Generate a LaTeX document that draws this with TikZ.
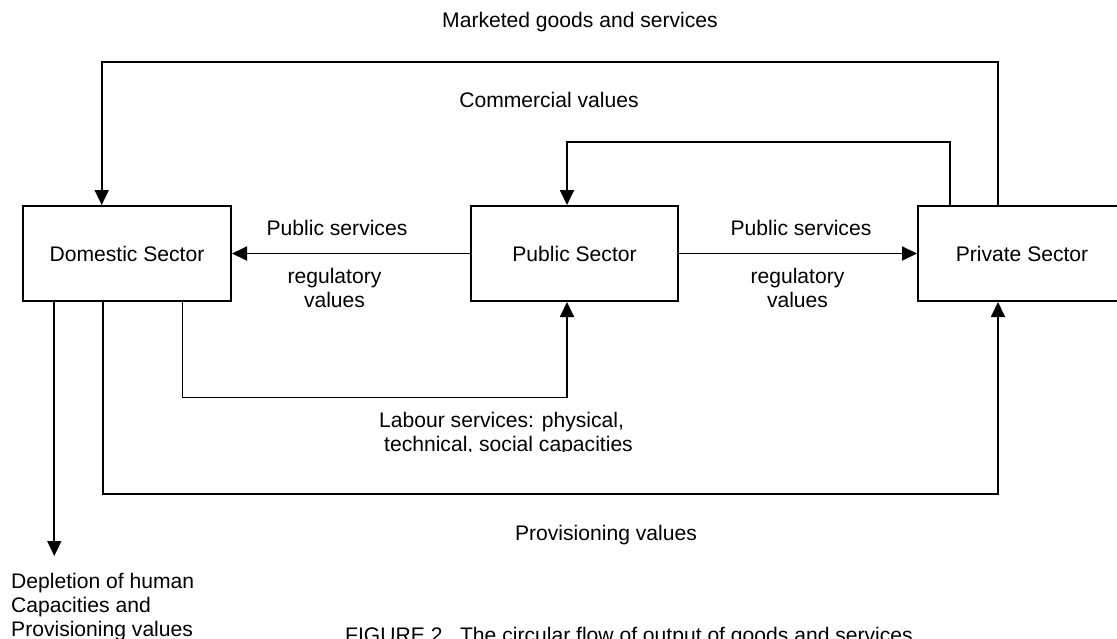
\documentclass[tikz,border=0pt]{standalone}
\usepackage{fontspec}
\setmainfont{Liberation Sans}
\usetikzlibrary{arrows.meta}
\begin{document}
\begin{tikzpicture}[x=1pt,y=-1pt,
  every node/.style={font=\fontsize{21.1}{24}\selectfont, inner sep=0pt},
  sector/.style={draw, line width=2pt, minimum width=208pt, minimum height=95pt},
  flow/.style={line width=1.8pt, -{Triangle[length=15pt,width=14pt]}},
  plainflow/.style={line width=1.8pt},
  lbl/.style={anchor=base}]
\useasboundingbox (0,0) rectangle (1117,638);

% sectors
\node[sector] (dom) at (127,253.5) {Domestic Sector};
\node[sector, minimum width=207pt] (pub) at (574.5,253.5) {Public Sector};
\node[sector] (priv) at (1022,253.5) {Private Sector};

% bend points
\coordinate (o1) at (998,62);
\coordinate (o2) at (101.7,62);
\coordinate (i1) at (950,142);
\coordinate (i2) at (567,142);
\coordinate (l1) at (182.5,397.5);
\coordinate (l2) at (567,397.5);
\coordinate (p1) at (102.7,494);
\coordinate (p2) at (998,494);
\coordinate (dep) at (54.3,556);

% connectors
\draw[flow] (pub.west) -- (dom.east);
\draw[flow] (pub.east) -- (priv.west);
\draw[flow] (priv.north -| o1) -- (o1) -- (o2) -- (dom.north -| o2);
\draw[flow] (priv.north -| i1) -- (i1) -- (i2) -- (pub.north -| i2);
\draw[flow] (dom.south -| l1) -- (l1) -- (l2) -- (pub.south -| l2);
\draw[flow] (dom.south -| p1) -- (p1) -- (p2) -- (priv.south -| p2);
\draw[flow] (dom.south -| dep) -- (dep);

% labels
\node[lbl] (mk) at (580,27) {Marketed goods and services};
\node[lbl] (cv) at (549,107.5) {Commercial values};
\node[lbl] (ps1) at (337,235) {Public services};
\node[lbl] (rv1) at (334.5,283.3) {\begin{tabular}[t]{@{}c@{}}regulatory\\values\end{tabular}};
\node[lbl] (ps2) at (801,235) {Public services};
\node[lbl] (rv2) at (797.5,283.3) {\begin{tabular}[t]{@{}c@{}}regulatory\\values\end{tabular}};
\begin{scope}
\clip (370,400) rectangle (660,451.5);
\node[anchor=base west] (lab) at (379,427.3) {\begin{tabular}[t]{@{}l@{}}Labour services: physical,\\\hspace{5pt}technical, social capacities\end{tabular}};
\end{scope}
\node[lbl] (pv) at (606,540) {Provisioning values};
\node[anchor=base west] (dp) at (11,588.3) {\begin{tabular}[t]{@{}l@{}}Depletion of human\\Capacities and\\Provisioning values\end{tabular}};
\node[anchor=base west] (cap) at (345,642) {FIGURE 2.\ \ The circular flow of output of goods and services};
\end{tikzpicture}
\end{document}
